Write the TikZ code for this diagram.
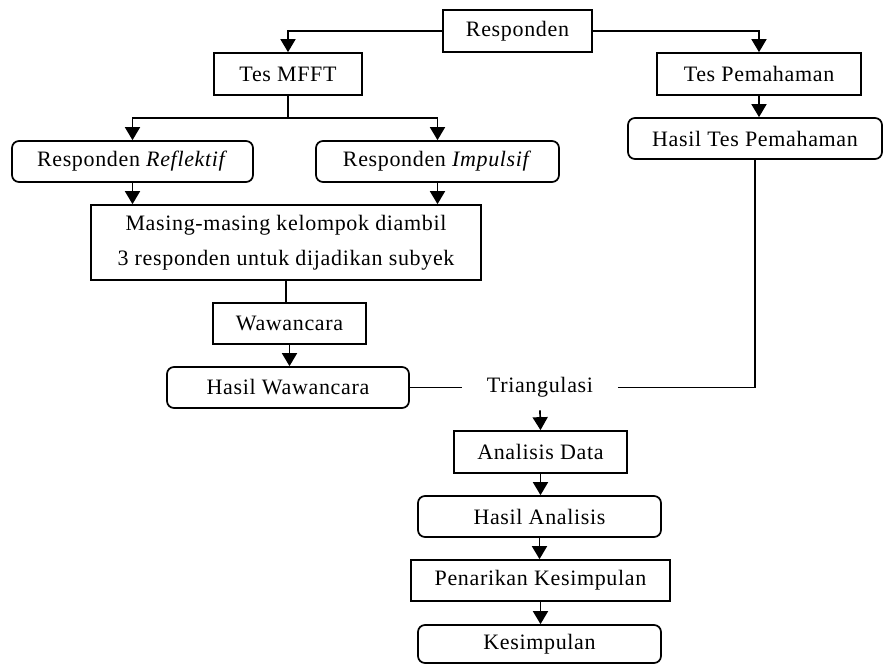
\documentclass[tikz,border=0pt]{standalone}
\usepackage{fontspec}
\setmainfont{Liberation Serif}[LetterSpace=3]
\usetikzlibrary{shapes,arrows.meta}

\tikzset{
  sqbox/.style={draw, rectangle, inner sep=0pt, align=center},
  rbox/.style={draw, rectangle, rounded corners=7pt, inner sep=0pt, align=center},
  arr/.style={-{Triangle[width=15pt,length=13pt]}}
}

\begin{document}
\begin{tikzpicture}[x=1pt, y=-1pt, line width=1.7pt,
    font=\fontsize{22}{35}\selectfont]
  \useasboundingbox (0,0) rectangle (883,664);
        % top level
        \node[sqbox, minimum width=149pt, minimum height=42pt] (resp) at (517.5,31) {Responden};
        \node[sqbox, minimum width=148pt, minimum height=42pt] (mfft) at (288,74) {Tes MFFT};
        \node[sqbox, minimum width=204pt, minimum height=42pt] (pem) at (759,74) {Tes Pemahaman};
        \node[rbox, minimum width=254pt, minimum height=41pt] (hpem) at (755,138.5) {Hasil Tes Pemahaman};
        % left branch
        \node[rbox, minimum width=241pt, minimum height=41pt] (refl) at (132.5,161.5) {Responden \textit{Reflektif}};
        \node[rbox, minimum width=243pt, minimum height=41pt] (impl) at (437.5,161.5) {Responden \textit{Impulsif}};
        \node[sqbox, minimum width=390pt, minimum height=75pt] (masing) at (286,242.5)
             {Masing-masing kelompok diambil\\3 responden untuk dijadikan subyek};
        \node[sqbox, minimum width=153pt, minimum height=41pt] (waw) at (289.5,323.5) {Wawancara};
        \node[rbox, minimum width=242pt, minimum height=41pt] (hwaw) at (288,387.5) {Hasil Wawancara};
        % bottom column
        \node[minimum width=154pt, minimum height=44pt, inner sep=0pt] (tri) at (540,387.5) {Triangulasi};
        \node[sqbox, minimum width=173pt, minimum height=42pt] (anal) at (540.5,452) {Analisis Data};
        \node[rbox, minimum width=243pt, minimum height=41pt] (hanal) at (539.5,516.5) {Hasil Analisis};
        \node[sqbox, minimum width=259pt, minimum height=41pt] (pen) at (540.5,580.5) {Penarikan Kesimpulan};
        \node[rbox, minimum width=243pt, minimum height=38pt] (kes) at (539.5,644) {Kesimpulan};

     \draw[arr] (resp.west) -| (mfft.north);
     \draw[arr] (resp.east) -| (pem.north);
     \draw[arr] (pem.south) -- (pem.south |- hpem.north);
     \draw (mfft.south) -- ++(0,22) coordinate (br);
     \draw[arr] (br) -| (refl.north);
     \draw[arr] (br) -| (impl.north);
     \draw[arr] (refl.south) -- (refl.south |- masing.north);
     \draw[arr] (impl.south) -- (impl.south |- masing.north);
     \draw (masing.south) -- (masing.south |- waw.north);
     \draw[arr] (waw.south) -- (waw.south |- hwaw.north);
     \draw (hwaw.east) -- (tri.west);
     \draw (tri.east) -| (hpem.south);
     \draw[arr] (tri.south) -- (anal.north);
     \draw[arr] (anal.south) -- (anal.south |- hanal.north);
     \draw[arr] (hanal.south) -- (hanal.south |- pen.north);
     \draw[arr] (pen.south) -- (pen.south |- kes.north);
    \end{tikzpicture}
\end{document}
